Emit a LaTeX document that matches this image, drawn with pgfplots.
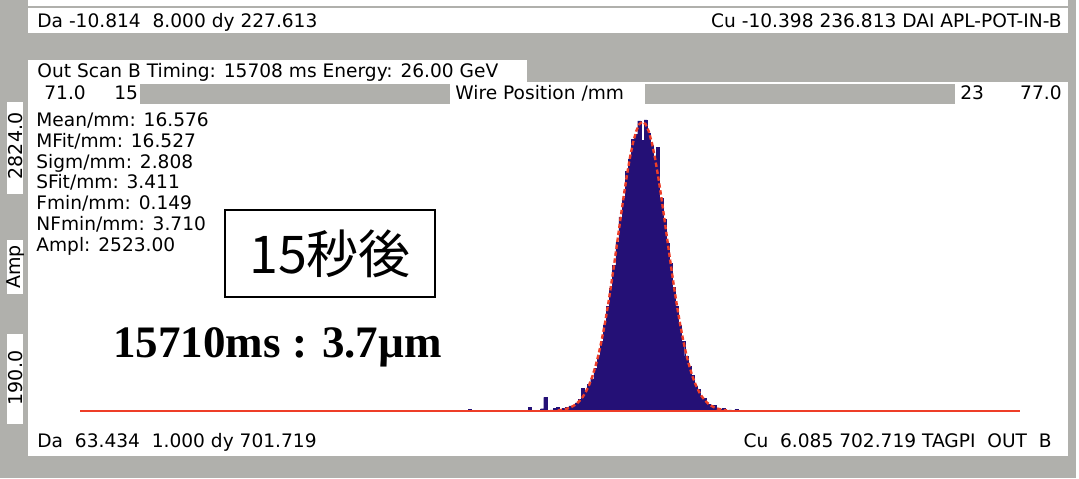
\documentclass[border=0pt]{standalone}
\usepackage{fontspec}
\usepackage{pgfplots}
\pgfplotsset{compat=1.18}
\setmainfont{DejaVu Sans}
\newfontfamily\cjk{Noto Sans CJK JP}
\newfontfamily\tms{Liberation Serif}
\definecolor{bg}{RGB}{176,176,172}
\definecolor{barc}{RGB}{36,16,118}
\definecolor{fitc}{RGB}{238,62,40}
\newcommand{\sm}{\fontsize{9.3}{10}\selectfont}
\begin{document}
\begin{tikzpicture}
\begin{scope}[x=0.5pt,y=-0.5pt]
\fill[bg] (0,0) rectangle (1079,478);
\useasboundingbox (0,0) rectangle (1079,478);
% top strip
\fill[white] (28,0) rectangle (1068,33);
\draw[bg, line width=0.6pt] (28,7) -- (1068,7);
% main panel
\fill[white] (28,60) rectangle (527,82);
\fill[white] (28,82) rectangle (1068,456);
\fill[bg] (140,84) rectangle (450,104);
\fill[bg] (645,84) rectangle (955,104);
\fill[white] (1076,0) rectangle (1079,478);
% left column labels
\fill[white] (7,102) rectangle (23,194);
\fill[white] (7,240) rectangle (23,294);
\fill[white] (7,334) rectangle (23,424);
\node[rotate=90, font=\fontsize{9.5}{10}\selectfont, inner sep=0] at (15.5,146) {2824.0};
\node[rotate=90, font=\fontsize{9.5}{10}\selectfont, inner sep=0] at (15.5,267) {Amp};
\node[rotate=90, font=\fontsize{9.5}{10}\selectfont, inner sep=0] at (15.5,378) {190.0};
% top texts
\node[anchor=base west, inner sep=0, font=\sm] at (37,27) {Da -10.814 \ 8.000 dy 227.613};
\node[anchor=base east, inner sep=0, font=\sm] at (1062,27) {Cu -10.398 236.813 DAI APL-POT-IN-B};
\node[anchor=base west, inner sep=0, font=\sm] at (37,77) {Out Scan B Timing: 15708 ms Energy: 26.00 GeV};
\node[anchor=base west, inner sep=0, font=\sm] at (44,99) {71.0};
\node[anchor=base west, inner sep=0, font=\sm] at (114,99) {15};
\node[anchor=base west, inner sep=0, font=\sm] at (455,99) {Wire Position /mm};
\node[anchor=base west, inner sep=0, font=\sm] at (960,99) {23};
\node[anchor=base east, inner sep=0, font=\sm] at (1062,99) {77.0};
% stats
\node[anchor=base west, inner sep=0, font=\sm] at (36,126) {Mean/mm: 16.576};
\node[anchor=base west, inner sep=0, font=\sm] at (36,147) {MFit/mm: 16.527};
\node[anchor=base west, inner sep=0, font=\sm] at (36,168) {Sigm/mm: 2.808};
\node[anchor=base west, inner sep=0, font=\sm] at (36,188) {SFit/mm: 3.411};
\node[anchor=base west, inner sep=0, font=\sm] at (36,209) {Fmin/mm: 0.149};
\node[anchor=base west, inner sep=0, font=\sm] at (36,230) {NFmin/mm: 3.710};
\node[anchor=base west, inner sep=0, font=\sm] at (36,251) {Ampl: 2523.00};
% bottom texts
\node[anchor=base west, inner sep=0, font=\sm] at (37,447) {Da \ 63.434 \ 1.000 dy 701.719};
\node[anchor=base east, inner sep=0, font=\sm] at (1052,447) {Cu \ 6.085 702.719 TAGPI \ OUT \ B};
% annotation box
\draw[black, line width=0.8pt, fill=white] (225,210) rectangle (435,297);
\node[inner sep=0, font=\cjk\fontsize{26}{28}\selectfont] at (330,254) {15秒後};
\node[anchor=base west, inner sep=0, font=\tms\bfseries\fontsize{22.5}{24}\selectfont] at (113,357) {15710ms : 3.7µm};
\end{scope}
\begin{axis}[at={(40pt,-205.5pt)}, anchor=south west, scale only axis,
  width=470pt, height=151pt, xmin=71, xmax=77, ymin=190, ymax=2824,
  hide axis, clip=true]
\addplot[ybar, bar width=0.02, bar shift=0pt, fill=barc, draw=barc, line width=0.2pt] coordinates {
(73.49,205) (73.87,220) (73.95,210) (73.97,310) (74.01,200) (74.03,215) (74.05,220) (74.07,205)
(74.09,215) (74.11,225) (74.13,235) (74.15,240) (74.17,260) (74.19,290) (74.21,390) (74.23,350)
(74.25,420) (74.27,470) (74.29,560) (74.31,680) (74.33,800) (74.35,940) (74.37,1100) (74.39,1260)
(74.41,1460) (74.43,1660) (74.45,1880) (74.47,2050) (74.49,2280) (74.51,2390) (74.53,2560) (74.55,2600)
(74.57,2720) (74.59,2550) (74.61,2730) (74.63,2610) (74.65,2510) (74.67,2380) (74.69,2490) (74.71,2050)
(74.73,1860) (74.75,1650) (74.77,1480) (74.79,1270) (74.81,1100) (74.83,940) (74.85,800) (74.87,670)
(74.89,580) (74.91,500) (74.93,410) (74.95,380) (74.97,310) (74.99,300) (75.01,250) (75.03,230)
(75.05,240) (75.07,210) (75.09,205) (75.11,215) (75.13,195) (75.15,200) (75.19,205) (75.21,195) (75.25,198)
};
\addplot[fitc, line width=1pt] coordinates {(71,190) (77,190)};
\addplot[fitc, line width=1.2pt, dash pattern=on 2.2pt off 1.3pt] coordinates {
(74.05,196) (74.07,199) (74.09,204) (74.11,211) (74.13,221) (74.15,235) (74.17,254) (74.19,281)
(74.21,315) (74.23,360) (74.25,418) (74.27,490) (74.29,578) (74.31,684) (74.33,808) (74.35,951)
(74.37,1111) (74.39,1287) (74.41,1475) (74.43,1671) (74.45,1868) (74.47,2060) (74.49,2239) (74.51,2398)
(74.53,2531) (74.55,2630) (74.57,2692) (74.59,2713) (74.61,2692) (74.63,2630) (74.65,2531) (74.67,2398)
(74.69,2239) (74.71,2060) (74.73,1868) (74.75,1671) (74.77,1475) (74.79,1287) (74.81,1111) (74.83,951)
(74.85,808) (74.87,684) (74.89,578) (74.91,490) (74.93,418) (74.95,360) (74.97,315) (74.99,281)
(75.01,254) (75.03,235) (75.05,221) (75.07,211) (75.09,204) (75.11,199) (75.13,196)
};
\end{axis}
\end{tikzpicture}
\end{document}
